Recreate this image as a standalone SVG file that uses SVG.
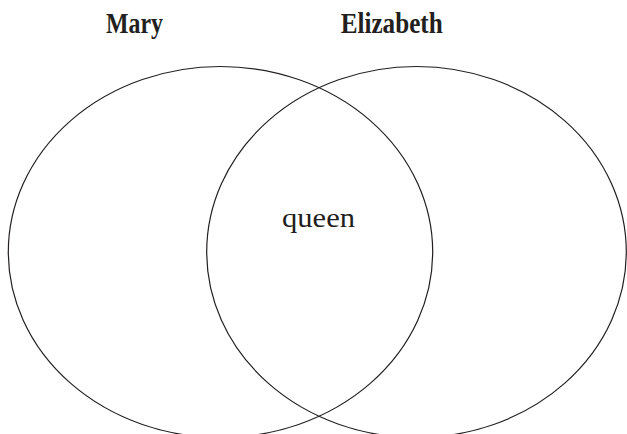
<svg xmlns="http://www.w3.org/2000/svg" width="627" height="434" viewBox="0 0 627 434">
<style>
.c{fill:none;stroke:#231f20;stroke-width:1.2}
.t{font-family:"Liberation Serif","Times New Roman",serif;fill:#231f20}
.h{font-weight:bold;font-size:29px}
</style>
<rect width="627" height="434" fill="#fff"/>
<g id="mary">
<ellipse class="c" cx="220.5" cy="252" rx="212.2" ry="185.5"/>
<text class="t h" x="134.5" y="33.3" text-anchor="middle" textLength="57" lengthAdjust="spacingAndGlyphs">Mary</text>
</g>
<g id="elizabeth">
<ellipse class="c" cx="416.5" cy="252" rx="209.8" ry="185.5"/>
<text class="t h" x="391.7" y="33.3" text-anchor="middle" textLength="102" lengthAdjust="spacingAndGlyphs">Elizabeth</text>
</g>
<g id="overlap">
<text class="t" x="318.5" y="226.7" font-size="28" text-anchor="middle" textLength="73" lengthAdjust="spacingAndGlyphs">queen</text>
</g>
<g id="connectors"></g>
</svg>
